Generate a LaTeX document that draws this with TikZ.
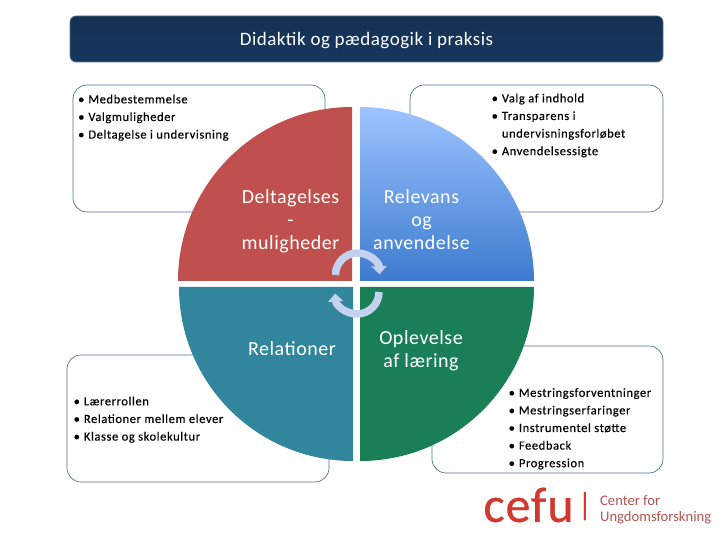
\documentclass[tikz,border=0pt]{standalone}
\usepackage{fontspec}
\setmainfont{Carlito}
\newfontfamily\titlefont[LetterSpace=2.6]{Carlito}
\newfontfamily\listfont[LetterSpace=4.8,FakeBold=0.3]{Carlito}
\newfontfamily\partfont[LetterSpace=2.6]{Carlito}
\newfontfamily\logofont[FakeBold=0.6,LetterSpace=2]{Carlito}
\newcommand{\bul}{\textbullet\hspace{4pt}}
\usetikzlibrary{arrows.meta}
\definecolor{titlefill}{HTML}{17375E}
\definecolor{boxline}{HTML}{4F7488}
\definecolor{partred}{HTML}{C0504D}
\definecolor{partteal}{HTML}{31859C}
\definecolor{partgreen}{HTML}{1A7F57}
\definecolor{partblue}{HTML}{3D7BCF}
\definecolor{partsky}{HTML}{9DC3FF}
\definecolor{turnarrow}{HTML}{C3D2EE}
\definecolor{logored}{HTML}{D2382E}
\begin{document}
\begin{tikzpicture}[x=1pt,y=1pt,
    infobox/.style={draw=boxline,fill=white,line width=0.7pt,rounded corners=14pt},
    infotext/.style={anchor=north west,align=left,inner sep=0pt,font=\listfont\fontsize{12.5}{17.6}\selectfont},
    parttext/.style={align=center,inner sep=0pt,text=white,font=\partfont\fontsize{20}{23}\selectfont},
    turn/.style={draw=turnarrow,line width=7.5pt,-{Triangle[length=8pt,width=15pt]}}]

\useasboundingbox (0,0) rectangle (720,540);

\draw[draw=boxline,top color=titlefill!88!black,bottom color=titlefill,rounded corners=6pt,line width=0.7pt] (70,478) rectangle (663,524);
\node[text=white,inner sep=0pt,font=\titlefont\fontsize{19}{22}\selectfont] (title) at (366.5,499.5) {Didaktik og pædagogik i praksis};

\draw[infobox] (73,455) rectangle (325,328);
\draw[infobox] (410,455) rectangle (663,328);
\draw[infobox] (67,185) rectangle (329,58);
\draw[infobox] (432,194) rectangle (663,67);

\fill[partred] (352,259) -- (352,433) arc (90:180:174) -- cycle;
\shade[top color=partsky,bottom color=partblue] (360,259) -- (534,259) arc (0:90:174) -- cycle;
\fill[partteal] (353,253) -- (179,253) arc (180:270:174) -- cycle;
\fill[partgreen] (360,253) -- (360,79) arc (270:360:174) -- cycle;

\node[infotext] (listA) at (78,445.5) {\bul Medbestemmelse\\\bul Valgmuligheder\\\bul Deltagelse i undervisning};
\node[infotext] (listB) at (491.5,446.5) {\bul Valg af indhold\\\bul Transparens i\\\phantom{\bul}undervisningsforløbet\\\bul Anvendelsessigte};
\node[infotext] (listC) at (73.5,143.5) {\bul Lærerrollen\\\bul Relationer mellem elever\\\bul Klasse og skolekultur};
\node[infotext] (listD) at (508.5,152) {\bul Mestringsforventninger\\\bul Mestringserfaringer\\\bul Instrumentel støtte\\\bul Feedback\\\bul Progression};

\node[parttext] (deltagelse) at (290.5,319) {Deltagelses\\-\\muligheder};
\node[parttext] (relevans) at (421.5,320) {Relevans\\og\\anvendelse};
\node[parttext] (relationer) at (292,191.5) {Relationer};
\node[parttext] (oplevelse) at (421,189) {Oplevelse\\af læring};

\draw[turn] (335.5,265) arc (180:2:22);
\draw[turn] (379,248) arc (0:-176:22);

\node[inner sep=0pt,text=logored,font=\logofont\fontsize{50}{50}\selectfont] (cefu) at (528.5,35) {cefu};
\node[inner sep=0pt,text=logored,font=\fontsize{32}{32}\selectfont] (bar) at (585,33) {|};
\node[anchor=west,align=left,inner sep=0pt,text=logored!60!gray,font=\fontsize{14.6}{16}\selectfont] (cefuname) at (600,30) {Center for\\Ungdomsforskning};
\end{tikzpicture}
\end{document}
